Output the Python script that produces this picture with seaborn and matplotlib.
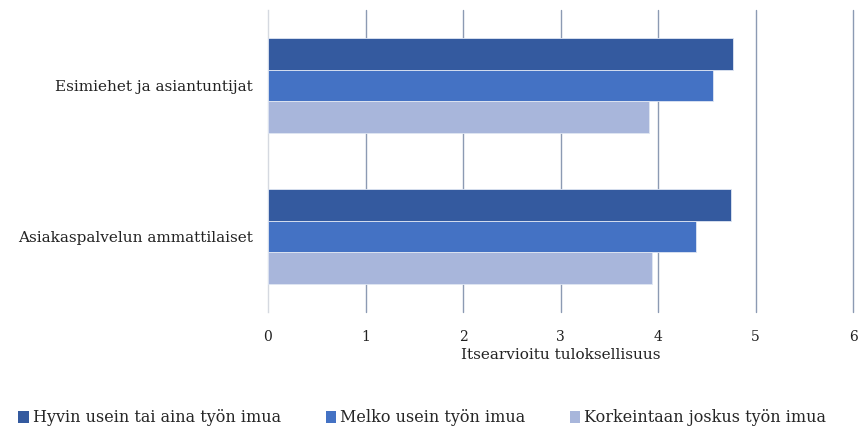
import matplotlib
matplotlib.use("Agg")
import matplotlib.pyplot as plt
import seaborn as sns
import pandas as pd
from matplotlib.patches import Patch

# Data
groups = ["Esimiehet ja asiantuntijat", "Asiakaspalvelun ammattilaiset"]
series = ["Hyvin usein tai aina työn imua", "Melko usein työn imua",
          "Korkeintaan joskus työn imua"]
hyvin_usein = [4.77, 4.75]
melko_usein = [4.56, 4.39]
korkeintaan_joskus = [3.91, 3.94]
x_ticks = [0, 1, 2, 3, 4, 5, 6]
colors = ["#345A9F", "#4472C4", "#A8B6DB"]

rows = []
for s, vals in zip(series, [hyvin_usein, melko_usein, korkeintaan_joskus]):
    for g, v in zip(groups, vals):
        rows.append({"ryhma": g, "sarja": s, "arvo": v})
df = pd.DataFrame(rows)

sns.set_theme(style="white")
plt.rcParams["font.family"] = ["DejaVu Serif"]

fig = plt.figure(figsize=(8.62, 4.30), dpi=100)
ax = fig.add_axes([268 / 862, 1 - 312 / 430, (853 - 268) / 862, (312 - 10) / 430])

sns.barplot(data=df, y="ryhma", x="arvo", hue="sarja", order=groups,
            hue_order=series, palette=colors, saturation=1, orient="h",
            width=0.63, errorbar=None, edgecolor="#dfe6f3", linewidth=0.6,
            legend=False, ax=ax, zorder=3)

ax.set_xlim(0, 6)
ax.set_ylim(1.5, -0.5)
ax.set_xticks(x_ticks)
ax.set_xticklabels([str(t) for t in x_ticks], fontsize=10, color="#222222")
ax.tick_params(axis="x", length=0, pad=13)
ax.tick_params(axis="y", length=0, pad=11, labelsize=11, labelcolor="#222222")
ax.set_ylabel("")
ax.set_xlabel("Itsearvioitu tuloksellisuus", fontsize=11, color="#222222",
              labelpad=3)

for t in x_ticks[1:]:
    ax.axvline(t, color="#8C9AB3", linewidth=1.0, zorder=1, clip_on=False)
for side in ["top", "right", "bottom"]:
    ax.spines[side].set_visible(False)
ax.spines["left"].set_color("#D5D9E0")
ax.spines["left"].set_linewidth(1.0)

handles = [Patch(facecolor=c, edgecolor="none") for c in colors]
fig.legend(handles, series, loc="center", bbox_to_anchor=(0.49, 1 - 418 / 430),
           ncol=3, frameon=False, fontsize=11.5, handlelength=0.65,
           handleheight=0.7, handletextpad=0.25, columnspacing=2.8)

fig.savefig("out.png", dpi=100)
